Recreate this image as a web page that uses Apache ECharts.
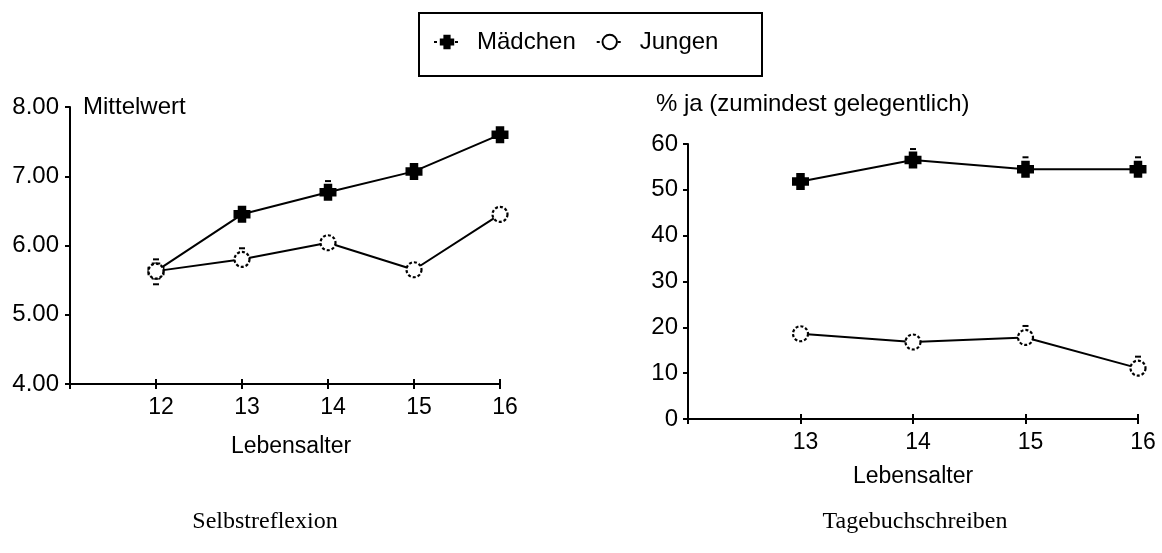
<!DOCTYPE html>
<html><head><meta charset="utf-8">
<script src="https://cdn.jsdelivr.net/npm/echarts@6/dist/echarts.min.js"></script>
<style>html,body{margin:0;padding:0;background:#fff}#c{width:1162px;height:553px}</style>
</head><body><div id="c"></div>
<script>
// ---- data ----
const ageLeft = [12, 13, 14, 15, 16];
const selbstMaedchen = [5.63, 6.45, 6.77, 7.07, 7.60];
const selbstJungen = [5.63, 5.80, 6.04, 5.65, 6.45];
const selbstMaedchenErrUp = [0, 0, 0.16, 0, 0];
const selbstMaedchenErrDown = [0, 0, 0, 0, 0];
const selbstJungenErrUp = [0.17, 0.16, 0, 0, 0];
const selbstJungenErrDown = [0.19, 0, 0, 0, 0];

const ageRight = [13, 14, 15, 16];
const tagebuchMaedchen = [51.8, 56.5, 54.5, 54.5];
const tagebuchJungen = [18.6, 16.8, 17.8, 11.1];
const tagebuchMaedchenErrUp = [0, 2.4, 2.6, 2.6];
const tagebuchMaedchenErrDown = [0, 0, 0, 0];
const tagebuchJungenErrUp = [0, 0, 2.5, 2.5];
const tagebuchJungenErrDown = [0, 0, 0, 0];

const seriesNames = ['Mädchen', 'Jungen'];
const leftYTicks = { min: 4, max: 8, interval: 1 };
const rightYTicks = { min: 0, max: 60, interval: 10 };
const leftX = { min: 11, max: 16, interval: 1 };
const rightX = { min: 12, max: 16, interval: 1 };
const leftYTitle = 'Mittelwert';
const rightYTitle = '% ja (zumindest gelegentlich)';
const xTitle = 'Lebensalter';
const panelTitles = ['Selbstreflexion', 'Tagebuchschreiben'];

// ---- styles ----
const SANS = '"Liberation Sans", Arial, Helvetica, sans-serif';
const SERIF = '"Liberation Serif", "Times New Roman", serif';
const BLACK = '#000';
const filledSymbol = 'path://M3,0H9V3H12V9H9V12H3V9H0V3H3Z';

function pairs(xs, ys) { return xs.map((x, i) => [x, ys[i]]); }

function lineSeries(name, xs, ys, gi, filled) {
  return {
    type: 'line', name, xAxisIndex: gi * 2, yAxisIndex: gi, z: filled ? 3 : 4,
    data: pairs(xs, ys),
    symbol: filled ? filledSymbol : 'circle',
    symbolSize: filled ? 17 : 15,
    lineStyle: { color: BLACK, width: 2 },
    itemStyle: filled
      ? { color: BLACK, borderWidth: 0 }
      : { color: '#fff', borderColor: BLACK, borderWidth: 2.2, borderType: [3, 2] },
    emphasis: { disabled: true }, animation: false
  };
}

function capSeries(xs, ys, up, down, gi) {
  return {
    type: 'custom', xAxisIndex: gi * 2, yAxisIndex: gi, z: 1, silent: true, animation: false,
    data: xs.map((x, i) => [x, ys[i], up[i], down[i]]),
    encode: { x: 0, y: 1 },
    renderItem: (params, api) => {
      const x = api.value(0), y = api.value(1);
      const children = [];
      [[api.value(2), 1], [api.value(3), -1]].forEach(([e, s]) => {
        if (e > 0) {
          const p = api.coord([x, y + s * e]);
          children.push({ type: 'line', shape: { x1: p[0] - 3, y1: p[1], x2: p[0] + 3, y2: p[1] },
            style: { stroke: BLACK, lineWidth: 2 } });
        }
      });
      return { type: 'group', children };
    }
  };
}

const axisLine = { show: true, lineStyle: { color: BLACK, width: 2 } };
const tick = { show: true, length: 5, lineStyle: { color: BLACK, width: 2 } };

function xAxes(gi, range, gap, namePad) {
  return [{
    type: 'value', gridIndex: gi, position: 'bottom', ...range,
    axisLine, axisTick: tick, splitLine: { show: false },
    axisLabel: { color: BLACK, fontFamily: SANS, fontSize: 23, margin: 12, padding: [0, 0, 0, 10],
      formatter: v => (v === range.min ? '' : String(v)) },
    name: xTitle, nameLocation: 'middle', nameGap: gap,
    nameTextStyle: { color: BLACK, fontFamily: SANS, fontSize: 23, padding: namePad }
  }, {
    type: 'value', gridIndex: gi, position: 'bottom', offset: 0, ...range,
    axisLine: { show: false }, splitLine: { show: false }, axisLabel: { show: false },
    axisTick: { show: true, inside: true, length: 5, lineStyle: { color: BLACK, width: 2 } }
  }];
}

function yAxis(gi, range, fmt, margin) {
  return {
    type: 'value', gridIndex: gi, ...range,
    axisLine, axisTick: tick, splitLine: { show: false },
    axisLabel: { color: BLACK, fontFamily: SANS, fontSize: 24, margin, formatter: fmt }
  };
}

const chart = echarts.init(document.getElementById('c'), null, { renderer: 'canvas' });
chart.setOption({
  backgroundColor: '#fff',
  animation: false,
  grid: [
    { left: 70, top: 107, width: 430, height: 277 },
    { left: 688, top: 144, width: 450, height: 275 }
  ],
  xAxis: [...xAxes(0, leftX, 51, [0, 0, 0, 12]), ...xAxes(1, rightX, 46, [0, 0, 0, 0])],
  yAxis: [yAxis(0, leftYTicks, v => v.toFixed(2), 11), yAxis(1, rightYTicks, v => String(v), 10)],
  legend: {
    data: seriesNames, left: 433, top: 30, padding: 0, itemGap: 20,
    itemWidth: 26, itemHeight: 18,
    textStyle: { color: BLACK, fontFamily: SANS, fontSize: 24, padding: [0, 0, 0, 12] },
    lineStyle: { width: 2, type: [3, 4] }
  },
  graphic: [
    { type: 'rect', shape: { x: 419, y: 13, width: 343, height: 63 },
      style: { fill: 'none', stroke: BLACK, lineWidth: 2 }, z: 0 },
    { type: 'text', x: 83, y: 107, style: { text: leftYTitle, fill: BLACK, font: '24px ' + SANS, verticalAlign: 'middle' } },
    { type: 'text', x: 656, y: 104, style: { text: rightYTitle, fill: BLACK, font: '24px ' + SANS, verticalAlign: 'middle' } },
    { type: 'text', x: 265, y: 522, style: { text: panelTitles[0], fill: BLACK, font: '24px ' + SERIF, align: 'center', verticalAlign: 'middle' } },
    { type: 'text', x: 915, y: 522, style: { text: panelTitles[1], fill: BLACK, font: '24px ' + SERIF, align: 'center', verticalAlign: 'middle' } }
  ],
  series: [
    capSeries(ageLeft, selbstMaedchen, selbstMaedchenErrUp, selbstMaedchenErrDown, 0),
    capSeries(ageLeft, selbstJungen, selbstJungenErrUp, selbstJungenErrDown, 0),
    capSeries(ageRight, tagebuchMaedchen, tagebuchMaedchenErrUp, tagebuchMaedchenErrDown, 1),
    capSeries(ageRight, tagebuchJungen, tagebuchJungenErrUp, tagebuchJungenErrDown, 1),
    lineSeries(seriesNames[0], ageLeft, selbstMaedchen, 0, true),
    lineSeries(seriesNames[1], ageLeft, selbstJungen, 0, false),
    lineSeries(seriesNames[0], ageRight, tagebuchMaedchen, 1, true),
    lineSeries(seriesNames[1], ageRight, tagebuchJungen, 1, false)
  ]
});
</script></body></html>
